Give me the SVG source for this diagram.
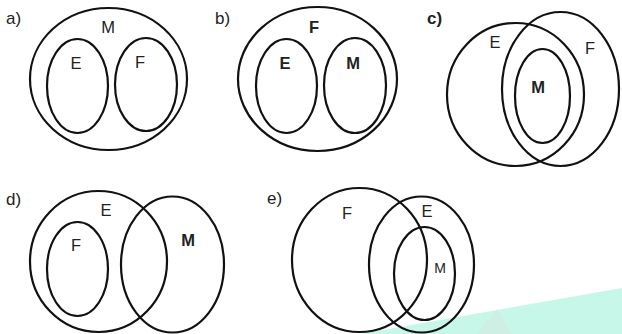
<svg xmlns="http://www.w3.org/2000/svg" width="622" height="334" viewBox="0 0 622 334">
<style>
.s{fill:none;stroke:#111;stroke-width:2.2}
.t{font-family:"Liberation Sans",Arial,sans-serif;font-size:16.5px;fill:#222;text-anchor:middle}
.b{font-weight:bold}
.lab{font-family:"Liberation Sans",Arial,sans-serif;font-size:17px;fill:#222}
</style>
<rect width="622" height="334" fill="#fff"/>
<g id="watermark">
<polygon points="360,334 622,288 622,334" fill="#c6f7e9"/>
<polygon points="497,309 477,334 512,334" fill="#cfeee4"/>
</g>
<g id="diagram-a">
<text class="lab" x="6" y="24">a)</text>
<ellipse class="s" cx="108.5" cy="79" rx="78.5" ry="71"/>
<ellipse class="s" cx="77.5" cy="86" rx="30.5" ry="47"/>
<ellipse class="s" cx="146" cy="84.5" rx="31" ry="46.5"/>
<text class="t" x="108" y="33">M</text>
<text class="t" x="76" y="69">E</text>
<text class="t" x="140" y="68">F</text>
</g>
<g id="diagram-b">
<text class="lab" x="215" y="24">b)</text>
<ellipse class="s" cx="317.5" cy="79" rx="79.5" ry="72"/>
<ellipse class="s" cx="286.5" cy="86" rx="30.5" ry="47"/>
<ellipse class="s" cx="355" cy="85.5" rx="31" ry="47.5"/>
<text class="t b" x="314" y="33">F</text>
<text class="t b" x="285" y="69">E</text>
<text class="t b" x="353" y="69">M</text>
</g>
<g id="diagram-c">
<text class="lab b" x="427" y="24">c)</text>
<ellipse class="s" cx="515.5" cy="94.5" rx="68.5" ry="71.5"/>
<ellipse class="s" cx="560.5" cy="89" rx="58.5" ry="77"/>
<ellipse class="s" cx="542.5" cy="96" rx="27.5" ry="47"/>
<text class="t" x="495" y="48">E</text>
<text class="t" x="590" y="54">F</text>
<text class="t b" x="538" y="93">M</text>
</g>
<g id="diagram-d">
<text class="lab" x="6" y="205">d)</text>
<ellipse class="s" cx="98.5" cy="261.5" rx="68.5" ry="70.5"/>
<ellipse class="s" cx="172.5" cy="264.5" rx="51.5" ry="68"/>
<ellipse class="s" cx="77.5" cy="269" rx="30.5" ry="47"/>
<text class="t" x="106" y="216">E</text>
<text class="t" x="76" y="251">F</text>
<text class="t b" x="188" y="246">M</text>
</g>
<g id="diagram-e">
<text class="lab" x="267" y="204">e)</text>
<ellipse class="s" cx="359.5" cy="260" rx="67.5" ry="72"/>
<ellipse class="s" cx="421.5" cy="264.5" rx="52.5" ry="68"/>
<ellipse class="s" cx="424.5" cy="273.5" rx="30.5" ry="46.5"/>
<text class="t" x="347" y="219">F</text>
<text class="t" x="427" y="217">E</text>
<text class="t" x="440" y="273" style="font-size:14px">M</text>
</g>
</svg>
